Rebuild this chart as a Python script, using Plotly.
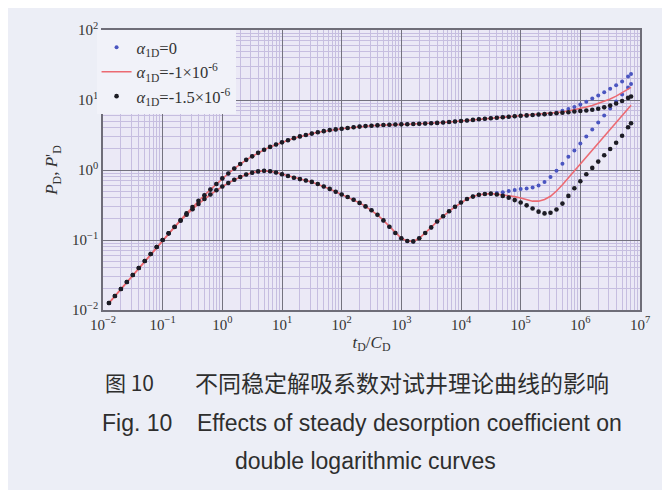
import plotly.graph_objects as go

# ---------------- data (log10 values) ----------------
log_t = [-1.9, -1.8, -1.7, -1.6, -1.5, -1.4, -1.3, -1.2, -1.1, -1.0,
         -0.9, -0.8, -0.7, -0.6, -0.5, -0.4, -0.3, -0.2, -0.1, 0.0,
         0.1, 0.2, 0.3, 0.4, 0.5, 0.6, 0.7, 0.8, 0.9, 1.0,
         1.1, 1.2, 1.3, 1.4, 1.5, 1.6, 1.7, 1.8, 1.9, 2.0,
         2.1, 2.2, 2.3, 2.4, 2.5, 2.6, 2.7, 2.8, 2.9, 3.0,
         3.1, 3.2, 3.3, 3.4, 3.5, 3.6, 3.7, 3.8, 3.9, 4.0,
         4.1, 4.2, 4.3, 4.4, 4.5, 4.6, 4.7, 4.8, 4.9, 5.0,
         5.1, 5.2, 5.3, 5.4, 5.5, 5.6, 5.7, 5.8, 5.9, 6.0,
         6.1, 6.2, 6.3, 6.4, 6.5, 6.6, 6.7, 6.8, 6.85]

# pressure P_D, common to all three cases up to log t = 5.5
log_pd_common = [-1.90, -1.80, -1.70, -1.60, -1.50, -1.40, -1.30, -1.20, -1.10, -1.00,
                 -0.905, -0.81, -0.715, -0.62, -0.53, -0.44, -0.36, -0.28, -0.20, -0.12,
                 -0.05, 0.02, 0.085, 0.145, 0.195, 0.245, 0.29, 0.33, 0.365, 0.395,
                 0.425, 0.455, 0.48, 0.50, 0.52, 0.54, 0.555, 0.57, 0.58, 0.59,
                 0.60, 0.61, 0.62, 0.627, 0.633, 0.638, 0.643, 0.647, 0.65, 0.652,
                 0.654, 0.657, 0.66, 0.664, 0.668, 0.673, 0.679, 0.686, 0.693, 0.70,
                 0.708, 0.716, 0.724, 0.732, 0.74, 0.747, 0.754, 0.761, 0.768, 0.774,
                 0.78, 0.786, 0.792, 0.798, 0.804]
# pressure tails, log t = 5.6 ... 6.85
log_pd_tail_a0 = [0.822, 0.845, 0.872, 0.90, 0.935, 0.975, 1.02, 1.065, 1.11, 1.16, 1.21, 1.265, 1.335, 1.37]
log_pd_tail_a1 = [0.815, 0.828, 0.843, 0.86, 0.878, 0.90, 0.922, 0.95, 0.98, 1.015, 1.055, 1.10, 1.155, 1.18]
log_pd_tail_a15 = [0.81, 0.817, 0.826, 0.835, 0.843, 0.851, 0.86, 0.875, 0.895, 0.92, 0.95, 0.985, 1.03, 1.05]

# derivative P'_D, common up to log t = 4.5
log_dpd_common = [-1.90, -1.80, -1.70, -1.60, -1.50, -1.40, -1.30, -1.20, -1.10, -1.00,
                  -0.905, -0.815, -0.725, -0.64, -0.56, -0.485, -0.415, -0.35, -0.29, -0.235,
                  -0.185, -0.14, -0.10, -0.065, -0.04, -0.02, -0.012, -0.018, -0.035, -0.06,
                  -0.085, -0.11, -0.13, -0.15, -0.17, -0.20, -0.235, -0.27, -0.31, -0.35,
                  -0.385, -0.425, -0.47, -0.52, -0.575, -0.64, -0.72, -0.81, -0.90, -0.975,
                  -1.015, -1.02, -0.975, -0.90, -0.82, -0.735, -0.66, -0.59, -0.525, -0.465,
                  -0.415, -0.38, -0.355, -0.342, -0.338]
# derivative tails, log t = 4.6 ... 6.85
log_dpd_tail_a0 = [-0.33, -0.318, -0.30, -0.285, -0.272, -0.265, -0.25, -0.222, -0.17, -0.10,
                   -0.01, 0.09, 0.19, 0.28, 0.38, 0.48, 0.58, 0.68, 0.78, 0.88,
                   0.98, 1.08, 1.18, 1.23]
log_dpd_tail_a1 = [-0.345, -0.355, -0.365, -0.38, -0.40, -0.425, -0.445, -0.445, -0.42, -0.375,
                   -0.30, -0.21, -0.11, -0.01, 0.09, 0.19, 0.29, 0.39, 0.49, 0.585,
                   0.68, 0.775, 0.875, 0.925]
log_dpd_tail_a15 = [-0.35, -0.37, -0.395, -0.43, -0.465, -0.505, -0.55, -0.595, -0.62, -0.61,
                    -0.565, -0.48, -0.37, -0.26, -0.16, -0.06, 0.03, 0.12, 0.21, 0.30,
                    0.39, 0.49, 0.61, 0.667]

series_names = ["<i>α</i><sub>1D</sub>=0",
                "<i>α</i><sub>1D</sub>=-1×10<sup>-6</sup>",
                "<i>α</i><sub>1D</sub>=-1.5×10<sup>-6</sup>"]

x_tick_vals = [1e-2, 1e-1, 1e0, 1e1, 1e2, 1e3, 1e4, 1e5, 1e6, 1e7]
x_tick_text = ["10<sup>−2</sup>", "10<sup>−1</sup>", "10<sup>0</sup>", "10<sup>1</sup>", "10<sup>2</sup>",
               "10<sup>3</sup>", "10<sup>4</sup>", "10<sup>5</sup>", "10<sup>6</sup>", "10<sup>7</sup>"]
y_tick_vals = [1e-2, 1e-1, 1e0, 1e1, 1e2]
y_tick_text = ["10<sup>−2</sup>", "10<sup>−1</sup>", "10<sup>0</sup>", "10<sup>1</sup>", "10<sup>2</sup>"]

# ---------------- build ----------------
t = [10 ** v for v in log_t]


def series(pd_tail, dpd_tail):
    p = [10 ** v for v in (log_pd_common + pd_tail)]
    d = [10 ** v for v in (log_dpd_common + dpd_tail)]
    return t + [None] + t, p + [None] + d


x0, y0 = series(log_pd_tail_a0, log_dpd_tail_a0)
x1, y1 = series(log_pd_tail_a1, log_dpd_tail_a1)
x2, y2 = series(log_pd_tail_a15, log_dpd_tail_a15)

fig = go.Figure()
fig.add_trace(go.Scatter(x=x0, y=y0, mode="markers", name=series_names[0],
                         marker=dict(color="#4a55c0", size=4)))
fig.add_trace(go.Scatter(x=x1, y=y1, mode="lines", name=series_names[1],
                         line=dict(color="#ec6a72", width=1.6), connectgaps=False))
fig.add_trace(go.Scatter(x=x2, y=y2, mode="markers", name=series_names[2],
                         marker=dict(color="#1c1c24", size=4.6)))

minor_vals_x = [k * 10 ** n for n in range(-2, 7) for k in range(2, 10)]
minor_vals_y = [k * 10 ** n for n in range(-2, 2) for k in range(2, 10)]

serif = "Liberation Serif, Times New Roman, serif"
sans = "Liberation Sans, Arial, sans-serif"
major_grid = "#74737f"
minor_grid = "#c6bee0"

fig.update_xaxes(type="log", range=[-2, 7], tickvals=x_tick_vals, ticktext=x_tick_text,
                 showgrid=True, gridcolor=major_grid, gridwidth=1.3,
                 minor=dict(tickvals=minor_vals_x, showgrid=True, gridcolor=minor_grid, gridwidth=1),
                 showline=True, mirror=True, linecolor="#6e6d78", linewidth=1.5,
                 ticks="", zeroline=False,
                 tickfont=dict(family=serif, size=15, color="#333333"),
                 title=dict(text="<i>t</i><sub>D</sub>/<i>C</i><sub>D</sub>",
                            font=dict(family=serif, size=17, color="#333333"), standoff=4))
fig.update_yaxes(type="log", range=[-2, 2], tickvals=y_tick_vals, ticktext=y_tick_text,
                 showgrid=True, gridcolor=major_grid, gridwidth=1.3,
                 minor=dict(tickvals=minor_vals_y, showgrid=True, gridcolor=minor_grid, gridwidth=1),
                 showline=True, mirror=True, linecolor="#6e6d78", linewidth=1.5,
                 ticks="", zeroline=False,
                 tickfont=dict(family=serif, size=15, color="#333333"),
                 title=dict(text="<i>P</i><sub>D</sub>, <i>P</i>'<sub>D</sub>",
                            font=dict(family=serif, size=17, color="#333333"), standoff=10))

# the page adds an 8 px body margin, so the figure is sized/offset to compensate
fig.update_layout(
    width=662, height=482,
    margin=dict(l=95, r=30, t=17, b=180),
    paper_bgcolor="#eceef6",
    plot_bgcolor="#ebe9f6",
    showlegend=True,
    legend=dict(x=-0.012, y=1.0, xanchor="left", yanchor="top",
                bgcolor="#f1f2f9", borderwidth=0, itemwidth=30,
                font=dict(family=serif, size=16.5, color="#333333"),
                tracegroupgap=0),
)

caption_color = "#2e2e2e"
fig.add_annotation(text="图 10", xref="paper", yref="paper", x=0.0, y=-0.256,
                   xanchor="left", yanchor="middle", showarrow=False,
                   font=dict(family="Noto Sans CJK SC, " + sans, size=21, color=caption_color))
fig.add_annotation(text="不同稳定解吸系数对试井理论曲线的影响", xref="paper", yref="paper",
                   x=0.168, y=-0.256, xanchor="left", yanchor="middle", showarrow=False,
                   font=dict(family="Noto Sans CJK SC", size=23, color=caption_color))
fig.add_annotation(text="Fig. 10", xref="paper", yref="paper", x=-0.006, y=-0.404,
                   xanchor="left", yanchor="middle", showarrow=False,
                   font=dict(family=sans, size=23, color=caption_color))
fig.add_annotation(text="Effects of steady desorption coefficient on", xref="paper", yref="paper",
                   x=0.171, y=-0.404, xanchor="left", yanchor="middle", showarrow=False,
                   font=dict(family=sans, size=23, color=caption_color))
fig.add_annotation(text="double logarithmic curves", xref="paper", yref="paper",
                   x=0.242, y=-0.54, xanchor="left", yanchor="middle", showarrow=False,
                   font=dict(family=sans, size=23, color=caption_color))

fig.write_html("out.html")
